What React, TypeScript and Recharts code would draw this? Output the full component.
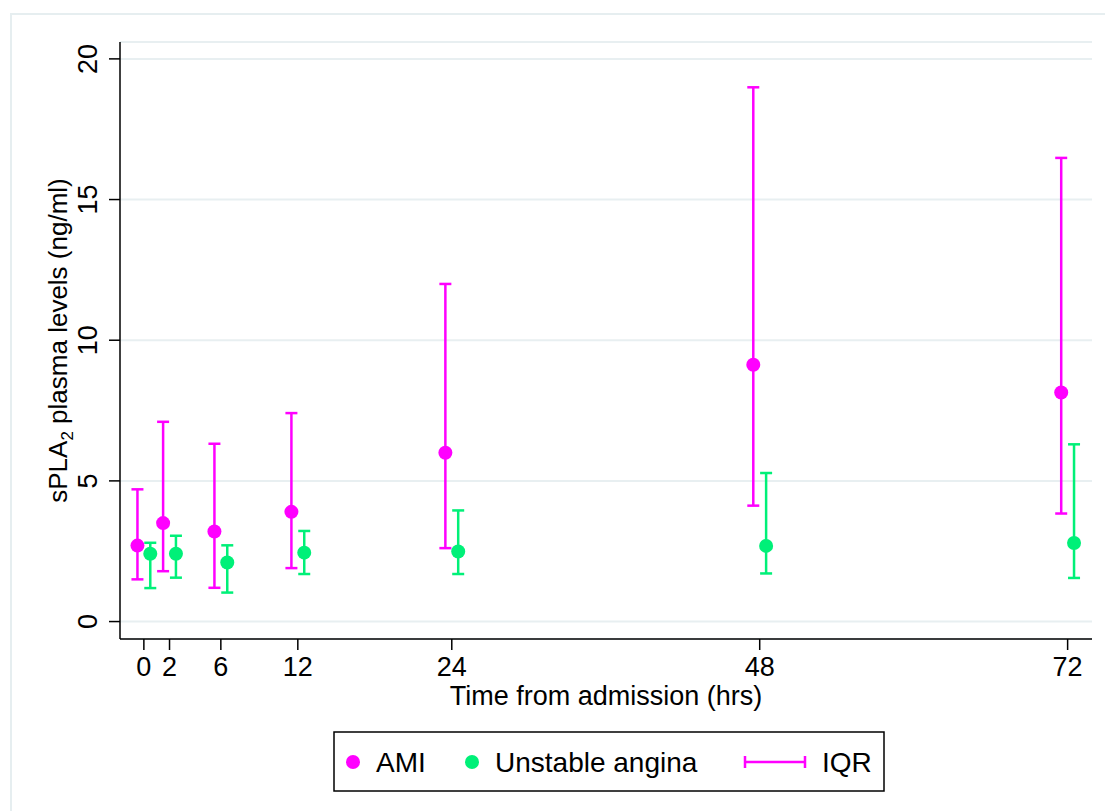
import { CartesianGrid, ErrorBar, Scatter, ScatterChart, XAxis, YAxis } from "recharts";

const hours = [0, 2, 6, 12, 24, 48, 72];
const amiMedian = [2.7, 3.5, 3.2, 3.9, 6.0, 9.13, 8.14];
const amiLow = [1.5, 1.79, 1.2, 1.9, 2.61, 4.12, 3.84];
const amiHigh = [4.7, 7.1, 6.32, 7.41, 12.0, 18.99, 16.48];
const uaMedian = [2.41, 2.41, 2.1, 2.45, 2.49, 2.69, 2.79];
const uaLow = [1.19, 1.56, 1.03, 1.69, 1.69, 1.71, 1.55];
const uaHigh = [2.8, 3.05, 2.71, 3.22, 3.95, 5.28, 6.3];
const yTicks = [0, 5, 10, 15, 20];

const MAGENTA = "#FF00FF";
const GREEN = "#00F078";
const FONT = "'Liberation Sans', Arial, sans-serif";

// each group is nudged half an hour either side of its tick
const build = (med: number[], lo: number[], hi: number[], shift: number) =>
  hours.map((h, i) => ({
    x: h + shift,
    y: med[i],
    err: [med[i] - lo[i], hi[i] - med[i]],
  }));

const amiRows = build(amiMedian, amiLow, amiHigh, -0.5);
const uaRows = build(uaMedian, uaLow, uaHigh, 0.5);

const dot = (color: string) => (p: any) => <circle cx={p.cx} cy={p.cy} r={7} fill={color} />;

function XTick(p: any) {
  return (
    <text x={p.x} y={p.y + 24} textAnchor="middle" fontSize={27} fontFamily={FONT} fill="#000">
      {p.payload.value}
    </text>
  );
}

function YTick(p: any) {
  return (
    <text
      x={p.x}
      y={p.y}
      transform={`rotate(-90, ${p.x}, ${p.y})`}
      textAnchor="middle"
      fontSize={27}
      fontFamily={FONT}
      fill="#000"
    >
      {p.payload.value}
    </text>
  );
}

function YTitle(p: any) {
  const vb = p.viewBox;
  const cx = 67;
  const cy = vb.y + vb.height / 2;
  return (
    <text
      x={cx}
      y={cy}
      transform={`rotate(-90, ${cx}, ${cy})`}
      textAnchor="middle"
      fontSize={26}
      fontFamily={FONT}
      fill="#000"
    >
      sPLA
      <tspan fontSize={17} dy={6}>
        2
      </tspan>
      <tspan dy={-6}> plasma levels (ng/ml)</tspan>
    </text>
  );
}

function XTitle(p: any) {
  const vb = p.viewBox;
  return (
    <text x={vb.x + vb.width / 2} y={705} textAnchor="middle" fontSize={27} fontFamily={FONT} fill="#000">
      Time from admission (hrs)
    </text>
  );
}

function LegendBox() {
  const text = { fontSize: 28, fontFamily: FONT, fill: "#000" };
  return (
    <svg
      width={552}
      height={61}
      style={{ position: "absolute", left: 333, top: 731 }}
    >
      <rect x={1} y={1} width={550} height={59} fill="#fff" stroke="#000" strokeWidth={1.5} />
      <circle cx={20} cy={31} r={7} fill={MAGENTA} />
      <text x={43} y={41} {...text}>AMI</text>
      <circle cx={139} cy={31} r={7} fill={GREEN} />
      <text x={162} y={41} {...text}>Unstable angina</text>
      <g stroke={MAGENTA} strokeWidth={2.5}>
        <line x1={412} y1={31} x2={472} y2={31} />
        <line x1={412} y1={25} x2={412} y2={37} />
        <line x1={472} y1={25} x2={472} y2={37} />
      </g>
      <text x={489} y={41} {...text}>IQR</text>
    </svg>
  );
}

export default function App() {
  return (
    <div style={{ position: "absolute", left: 0, top: 0, width: 1105, height: 811, background: "#fff" }}>
      <div
        style={{
          position: "absolute",
          left: 10,
          top: 13,
          width: 1095,
          height: 798,
          borderTop: "2px solid #E6EEF0",
          borderLeft: "2px solid #E6EEF0",
          boxSizing: "border-box",
        }}
      />
      <div style={{ position: "absolute", left: 0, top: 0 }}>
        <ScatterChart width={1105} height={811} margin={{ top: 42, right: 13, bottom: 0, left: 0 }}>
          <CartesianGrid vertical={false} stroke="#E8EFF1" strokeWidth={2} />
          <XAxis
            type="number"
            dataKey="x"
            domain={[-1.86, 73.9]}
            ticks={hours}
            allowDataOverflow
            height={172}
            tickSize={11}
            tick={<XTick />}
            stroke="#000"
            strokeWidth={1.5}
            label={{ content: <XTitle /> }}
          />
          <YAxis
            type="number"
            dataKey="y"
            domain={[-0.62, 20.6]}
            ticks={yTicks}
            allowDataOverflow
            width={120}
            tickSize={11}
            tickMargin={12}
            tick={<YTick />}
            stroke="#000"
            strokeWidth={1.5}
            label={{ content: <YTitle /> }}
          />
          <Scatter data={amiRows} shape={dot(MAGENTA)} isAnimationActive={false}>
            <ErrorBar dataKey="err" direction="y" width={6} stroke={MAGENTA} strokeWidth={2.5} isAnimationActive={false} />
          </Scatter>
          <Scatter data={uaRows} shape={dot(GREEN)} isAnimationActive={false}>
            <ErrorBar dataKey="err" direction="y" width={6} stroke={GREEN} strokeWidth={2.5} isAnimationActive={false} />
          </Scatter>
        </ScatterChart>
      </div>
      <LegendBox />
    </div>
  );
}
